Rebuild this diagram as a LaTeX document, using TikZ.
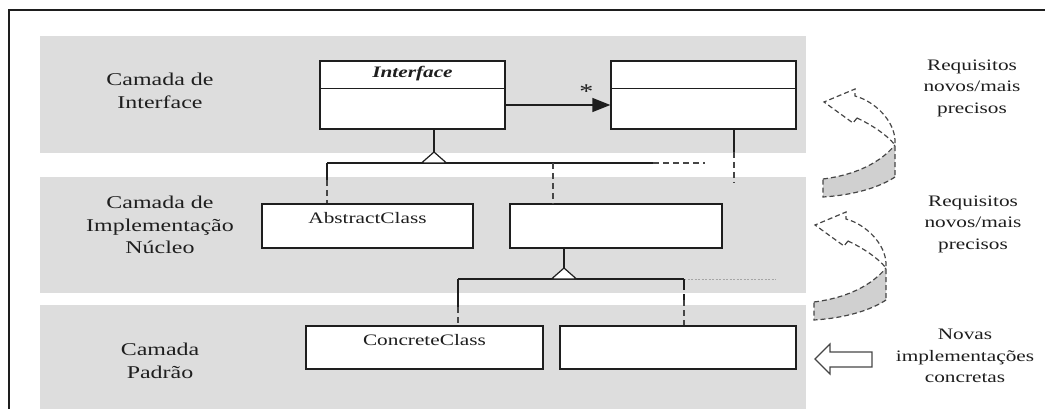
\documentclass[tikz,border=0pt]{standalone}
\usepackage{fontspec}
\setmainfont{Liberation Serif}[FakeStretch=1.33]
\usetikzlibrary{arrows.meta}

\definecolor{band}{RGB}{221,221,221}
\definecolor{ink}{RGB}{30,30,30}
\definecolor{dashink}{RGB}{70,70,70}
\definecolor{ribbon}{RGB}{208,208,208}

\begin{document}
\begin{tikzpicture}[x=1pt,y=-1pt,
  layer/.style={fill=band,draw=none},
  layerlabel/.style={align=center,text=ink,font=\fontsize{18}{22.5}\selectfont},
  sidelabel/.style={align=center,text=ink,font=\fontsize{16}{21.5}\selectfont},
  classbox/.style={draw=ink,fill=white,line width=1.2pt,inner sep=0pt,
    text=ink,font=\fontsize{16}{19}\selectfont},
  bus/.style={draw=ink,line width=2pt},
  stem/.style={draw=ink,line width=2.4pt},
  dropdash/.style={draw=dashink,line width=1.3pt,dash pattern=on 6pt off 4pt},
  hint/.style={draw=gray!70,line width=0.6pt,dash pattern=on 2pt off 1.5pt},
  gen/.style={draw=ink,line width=1.2pt,fill=white},
  ribbonline/.style={draw=dashink,line width=1.2pt,dash pattern=on 5pt off 3pt},
  twistarrow/.pic={
    % shaded underside of the ribbon
    \fill[ribbon] (-1,77) .. controls (31,73) and (56,61) .. (71,43)
      -- (71,75) .. controls (56,85) and (31,93) .. (-1,95) -- cycle;
    \draw[ribbonline] (-1,77) .. controls (31,73) and (56,61) .. (71,43);
    \draw[ribbonline] (71,75) .. controls (56,85) and (31,93) .. (-1,95) -- (-1,77);
    % front face with the arrow head
    \draw[ribbonline] (33,16) -- (29,21) -- (0,0) -- (31,-13) -- (31,-6)
      .. controls (50,-1) and (70,18) .. (71,38) -- (71,75);
    \draw[ribbonline] (33,16) .. controls (48,23) and (63,33) .. (71,43);
  }
]
\useasboundingbox (0,0) rectangle (1045,409);

% frame
\draw[ink,line width=2pt] (9,409) -- (9,10) -- (1045,10);

% layers
\fill[layer] (40,36) rectangle (806,153);
\fill[layer] (40,177) rectangle (806,293);
\fill[layer] (40,305) rectangle (806,409);

% layer names
\node[layerlabel] (ln1) at (160,91) {Camada de\\Interface};
\node[layerlabel] (ln2) at (160,225) {Camada de\\Implementação\\Núcleo};
\node[layerlabel] (ln3) at (160,361) {Camada\\Padrão};

% classes
\node[classbox,minimum width=185pt,minimum height=68pt,text height=11pt,text depth=45pt]
  (iface) at (412.5,95) {\textbf{\textit{Interface}}};
\draw[ink,line width=0.8pt] ([yshift=-28pt]iface.north west) -- ([yshift=-28pt]iface.north east);
\node[classbox,minimum width=185pt,minimum height=68pt] (assoc) at (703.5,95) {};
\draw[ink,line width=0.8pt] ([yshift=-28pt]assoc.north west) -- ([yshift=-28pt]assoc.north east);

\node[classbox,minimum width=211pt,minimum height=44pt,text height=11pt,text depth=15pt]
  (abs) at (367.5,226) {AbstractClass};
\node[classbox,minimum width=212pt,minimum height=44pt] (core) at (616,226) {};

\node[classbox,minimum width=237pt,minimum height=43pt,text height=11pt,text depth=16pt]
  (conc) at (424.5,347.5) {ConcreteClass};
\node[classbox,minimum width=236pt,minimum height=43pt] (conc2) at (678,347.5) {};

% association
\draw[ink,line width=1.2pt,-{Triangle[length=18pt,width=14pt]}]
  ([yshift=-10pt]iface.east) -- node[pos=0.77,above=6pt,inner sep=0pt,text=ink,
  font=\fontsize{21}{21}\selectfont] (mult) {*} ([yshift=-10pt]assoc.west);

% generalisation: interface layer to core layer
\coordinate (apex1) at (434,152);
\coordinate (bus1L) at (327,163);
\coordinate (bus1M) at (553,163);
\coordinate (bus1R) at (653,163);
\coordinate (bus1E) at (705,163);
\coordinate (drop1) at (327,180);
\coordinate (stem2) at (734,152);
\coordinate (stem2E) at (734,183);
\draw[stem] (apex1 |- iface.south) -- (apex1);
\draw[bus] (bus1L) -- (bus1R);
\draw[dropdash] (bus1R) -- (bus1E);
\draw[bus,line width=1.4pt] (bus1L) -- (drop1);
\draw[dropdash] (drop1) -- (drop1 |- abs.north);
\draw[dropdash] (bus1M) -- (bus1M |- core.north);
\draw[gen] (apex1) -- ++(-12.5,11) -- ++(25,0) -- cycle;
\draw[stem] (stem2 |- assoc.south) -- (stem2);
\draw[dropdash] (stem2) -- (stem2E);

% generalisation: core layer to standard layer
\coordinate (apex2) at (564,268);
\coordinate (bus2L) at (458,279);
\coordinate (bus2R) at (684,279);
\coordinate (bus2E) at (776,279);
\coordinate (drop2) at (458,307);
\coordinate (drop3) at (684,300);
\draw[stem] (apex2 |- core.south) -- (apex2);
\draw[bus] (bus2L) -- (bus2R);
\draw[hint] (bus2R) -- (bus2E);
\draw[bus,line width=1.4pt] (bus2L) -- (drop2);
\draw[dropdash] (drop2) -- (drop2 |- conc.north);
\draw[ink,line width=2.2pt,dash pattern=on 11pt off 4pt] (bus2R) -- (drop3);
\draw[dropdash] (drop3) -- (drop3 |- conc2.north);
\draw[gen] (apex2) -- ++(-12.5,11) -- ++(25,0) -- cycle;

% side notes
\pic at (824,102) {twistarrow};
\pic at (815,225) {twistarrow};
\draw[dashink,line width=1.2pt,line join=miter]
  (815,359) -- (830,344) -- (830,352) -- (872,352) -- (872,367) -- (830,367) -- (830,374) -- cycle;

\node[sidelabel] (note1) at (972,88) {Requisitos\\novos/mais\\precisos};
\node[sidelabel] (note2) at (973,224) {Requisitos\\novos/mais\\precisos};
\node[sidelabel] (note3) at (965,356) {Novas\\implementações\\concretas};
\end{tikzpicture}
\end{document}
